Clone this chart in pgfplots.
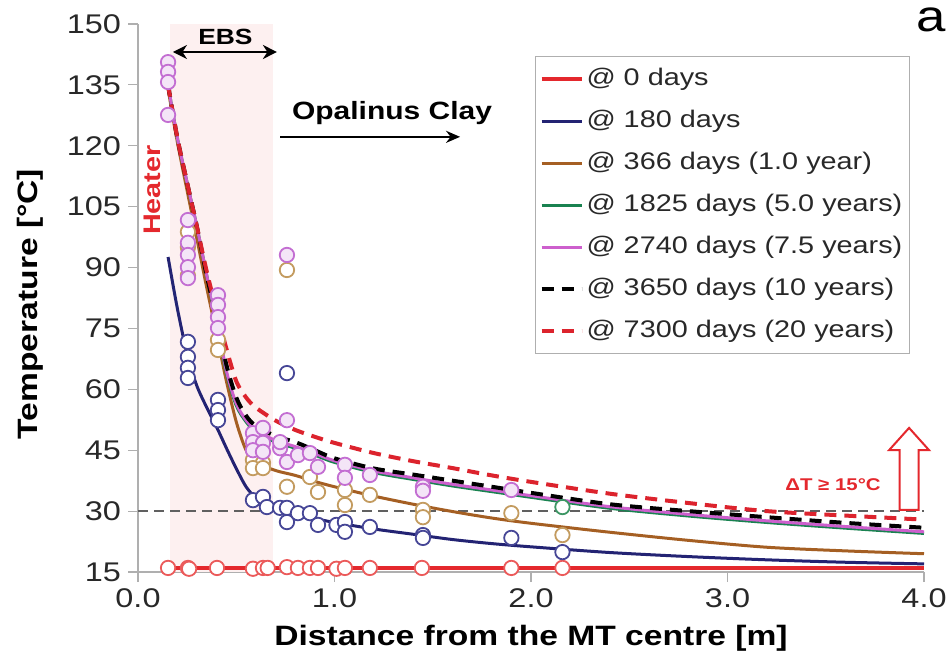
\documentclass[border=0pt]{standalone}
\usepackage{fontspec}
\setmainfont{Liberation Sans}[FakeStretch=1.2]
\usepackage{pgfplots}
\pgfplotsset{compat=1.18}
\usetikzlibrary{arrows.meta}

\definecolor{cRed}{RGB}{228,40,45}
\definecolor{cNavy}{RGB}{35,35,115}
\definecolor{cBrown}{RGB}{165,95,35}
\definecolor{cGreen}{RGB}{25,130,80}
\definecolor{cMag}{RGB}{205,95,205}
\definecolor{cRedD}{RGB}{220,35,45}
\definecolor{mRed}{RGB}{235,90,90}
\definecolor{mNavy}{RGB}{70,70,150}
\definecolor{mBrown}{RGB}{195,155,95}
\definecolor{mMag}{RGB}{195,110,210}
\definecolor{mGreen}{RGB}{60,150,100}
\definecolor{ebs}{RGB}{253,240,240}
\definecolor{axgray}{RGB}{175,175,175}
\definecolor{txt}{RGB}{40,40,40}

\pgfplotsset{
  mk/.style={only marks, mark=*, mark size=3.6pt,
    mark options={draw=#1, fill=white, line width=0.9pt}, forget plot},
}

\begin{document}
\begin{tikzpicture}
\path[use as bounding box] (0,0) rectangle (476pt,329pt);
\begin{axis}[
  at={(69pt,43pt)}, anchor=south west,
  scale only axis, width=393pt, height=274pt,
  xmin=0, xmax=4, ymin=15, ymax=150,
  xtick={0,1,2,3,4}, ytick={15,30,...,150},
  axis lines=left,
  axis line style={draw=axgray, line width=0.6pt, -},
  tick align=outside, major tick length=5pt,
  tick style={axgray, line width=0.6pt},
  /pgf/number format/assume math mode=true,
  xticklabel={\pgfmathprintnumber[fixed,fixed zerofill,precision=1]{\tick}},
  tick label style={font=\fontsize{13.5}{15}\selectfont, text=txt},
  xlabel={Distance from the MT centre [m]},
  ylabel={Temperature [°C]},
  label style={font=\fontsize{14}{16}\selectfont\bfseries, text=black},
  xlabel style={at={(axis description cs:0.5,-0.1204)}, anchor=center},
  ylabel style={at={(axis description cs:-0.1374,0.489)}, anchor=center},
  clip=false,
  legend cell align=left,
  legend image code/.code={\draw[#1] (0pt,0pt) -- (20pt,0pt);},
  legend style={at={(0.505,0.9416)}, anchor=north west, draw=axgray,
    line width=0.6pt, fill=white, text=txt,
    font=\fontsize{12}{14}\selectfont,
    inner xsep=2pt, inner ysep=3.75pt, row sep=6pt,
    nodes={text height=9pt, text depth=3pt, inner sep=1.5pt}},
]
\fill[ebs] (axis cs:0.163,15) rectangle (axis cs:0.687,150);
\addplot[forget plot, color=gray!75!black, dash pattern=on 5pt off 3pt, line width=0.8pt]
  coordinates {(0,30) (4,30)};

% @ 0 days
\addplot[cRed, line width=2pt] coordinates {(0.153,16) (4.0,16)};
\addlegendentry{@ 0 days}
% @ 180 days
\addplot[cNavy, line width=1.5pt, smooth, tension=0.5] coordinates {
(0.153,92.6) (0.2,80) (0.254,67.8) (0.3,60.8) (0.35,55.5) (0.407,50) (0.45,45.5)
(0.5,40.5) (0.55,36) (0.6,33.2) (0.65,31.8) (0.7,30.9) (0.8,29.5) (0.9,28.2) (1.0,27.2)
(1.2,25.6) (1.4,24.3) (1.6,23) (1.8,22) (2.0,21.2) (2.4,19.8) (2.8,18.8)
(3.2,18) (3.6,17.4) (4.0,17)};
\addlegendentry{@ 180 days}
% @ 366 days
\addplot[cBrown, line width=1.5pt, smooth, tension=0.5] coordinates {
(0.153,134) (0.2,121) (0.254,108) (0.3,97) (0.35,85) (0.407,72) (0.45,62)
(0.5,52) (0.55,45) (0.6,42) (0.7,40) (0.8,38.8) (0.9,37.3) (1.0,36)
(1.2,33.7) (1.4,31.7) (1.6,29.9) (1.8,28.3) (2.0,27) (2.4,24.8) (2.8,22.8)
(3.2,21.1) (3.6,20.2) (4.0,19.5)};
\addlegendentry{@ 366 days (1.0 year)}
% @ 1825 days
\addplot[cGreen, line width=1.5pt, smooth, tension=0.5] coordinates {
(0.153,135) (0.2,122) (0.254,110) (0.3,100) (0.35,88) (0.407,75) (0.45,64)
(0.5,56) (0.55,52) (0.6,49.5) (0.7,47) (0.8,45.5) (0.9,43.8) (1.0,42)
(1.2,39.5) (1.4,37.8) (1.6,36.2) (1.8,34.8) (2.0,33.4) (2.4,30.7) (2.8,28.8)
(3.2,27.2) (3.6,25.8) (4.0,24.5)};
\addlegendentry{@ 1825 days (5.0 years)}
% @ 2740 days
\addplot[cMag, line width=1.5pt, smooth, tension=0.5] coordinates {
(0.153,135) (0.2,122) (0.254,110) (0.3,100) (0.35,88) (0.407,75.5) (0.45,64.5)
(0.5,56.5) (0.55,52.4) (0.6,50) (0.7,47.4) (0.8,45.9) (0.9,44.2) (1.0,42.4)
(1.2,39.9) (1.4,38.2) (1.6,36.6) (1.8,35.2) (2.0,33.8) (2.4,31.1) (2.8,29.2)
(3.2,27.6) (3.6,26.2) (4.0,24.9)};
\addlegendentry{@ 2740 days (7.5 years)}
% @ 3650 days
\addplot[black, line width=2pt, dash pattern=on 6pt off 4pt, smooth, tension=0.5] coordinates {
(0.153,135) (0.2,122) (0.254,110) (0.3,100) (0.35,88) (0.407,76) (0.45,66)
(0.5,58) (0.55,53.5) (0.6,51) (0.7,48.5) (0.8,47) (0.9,45) (1.0,43)
(1.2,40.5) (1.4,39) (1.6,37.5) (1.8,36) (2.0,34.5) (2.4,31.7) (2.8,30)
(3.2,28.5) (3.6,27.1) (4.0,25.9)};
\addlegendentry{@ 3650 days (10 years)}
% @ 7300 days
\addplot[cRedD, line width=2pt, dash pattern=on 6pt off 4pt, smooth, tension=0.5] coordinates {
(0.153,135) (0.2,122) (0.254,110) (0.3,100) (0.35,89) (0.407,78) (0.45,70)
(0.5,62) (0.55,58) (0.6,55.5) (0.7,52.3) (0.8,50) (0.9,48.3) (1.0,46.8)
(1.2,44.3) (1.4,42.3) (1.6,40.6) (1.8,38.8) (2.0,37.2) (2.4,34.3) (2.8,32)
(3.2,30) (3.6,28.9) (4.0,27.9)};
\addlegendentry{@ 7300 days (20 years)}

% measured points
\addplot[mk=mRed] coordinates {
(0.153,16) (0.254,16) (0.260,15.8) (0.402,16) (0.585,15.8) (0.636,16) (0.66,16)
(0.758,16.2) (0.814,16) (0.875,16) (0.916,16) (1.01,15.8) (1.053,16) (1.18,16)
(1.445,16) (1.90,16) (2.16,16)};
\addplot[mk=mNavy] coordinates {
(0.254,71.7) (0.254,68) (0.254,65.3) (0.254,62.8) (0.407,57.4) (0.407,54.9)
(0.407,52.4) (0.585,32.7) (0.636,33.5) (0.656,31) (0.723,30.8) (0.758,30.8)
(0.758,27.3) (0.758,64) (0.814,29.5) (0.875,29.5) (0.916,26.6) (1.01,26.6)
(1.053,27.3) (1.053,24.9) (1.18,26.1) (1.45,24.1) (1.45,23.4) (1.90,23.4)
(2.16,19.9)};
\addplot[mk=mBrown] coordinates {
(0.254,98.8) (0.254,95) (0.254,88) (0.407,72.2) (0.407,69.7) (0.585,42.6)
(0.636,41.9) (0.585,40.6) (0.636,40.6) (0.758,89.4) (0.758,36) (0.875,38.4)
(0.916,34.7) (1.053,35.2) (1.053,31.5) (1.18,34) (1.45,30.3) (1.45,28.5)
(1.90,29.5) (2.16,24.1)};
\addplot[mk=mGreen] coordinates {(2.16,31)};
\addplot[only marks, mark=*, mark size=3.6pt, forget plot,
  mark options={draw=mMag, fill=mMag!18, line width=0.9pt}] coordinates {
(0.153,140.6) (0.153,138.2) (0.153,135.7) (0.153,127.6) (0.254,101.7)
(0.254,96.1) (0.254,93.1) (0.254,90.1) (0.254,87.4) (0.407,83.2) (0.407,80.8)
(0.407,77.8) (0.407,75.1) (0.585,49.2) (0.636,50.5) (0.585,47) (0.636,46.8)
(0.585,45) (0.636,44.6) (0.723,45.5) (0.723,47) (0.758,42.1) (0.758,52.4)
(0.758,93.1) (0.814,43.8) (0.875,44.3) (0.916,40.9) (1.053,41.4) (1.053,38.2)
(1.18,38.9) (1.45,36) (1.45,35) (1.90,35.2)};

% annotations
\node[font=\fontsize{11}{13}\selectfont\bfseries, text=black] at (axis cs:0.445,146.8) {EBS};
\draw[{Stealth[length=7pt,width=7pt]}-{Stealth[length=7pt,width=7pt]}, line width=1.4pt]
  (axis cs:0.178,143.1) -- (axis cs:0.707,143.1);
\node[font=\fontsize{12.5}{14}\selectfont\bfseries, text=black] at (axis cs:1.293,128.1) {Opalinus Clay};
\draw[-{Stealth[length=7pt,width=6pt]}, line width=1.1pt]
  (axis cs:0.723,122.2) -- (axis cs:1.639,122.2);
\node[rotate=90, text=cRed, font=\fontsize{12}{14}\selectfont\bfseries] at (axis cs:0.071,109.1) {Heater};
\node[text=cRed, font=\fontsize{8.5}{10}\selectfont\bfseries] at (axis cs:3.537,36.4) {ΔT ≥ 15°C};
\draw[cRed, line width=1pt, fill=white, line join=miter]
  (axis cs:3.876,30.3) -- (axis cs:3.876,45) -- (axis cs:3.822,45) --
  (axis cs:3.924,50.5) -- (axis cs:4.026,45) -- (axis cs:3.972,45) --
  (axis cs:3.972,30.3) -- cycle;
\end{axis}
\node[anchor=base west, font=\fontsize{22}{26}\selectfont, inner sep=0pt] at (458pt,313pt) {a};
\end{tikzpicture}
\end{document}
